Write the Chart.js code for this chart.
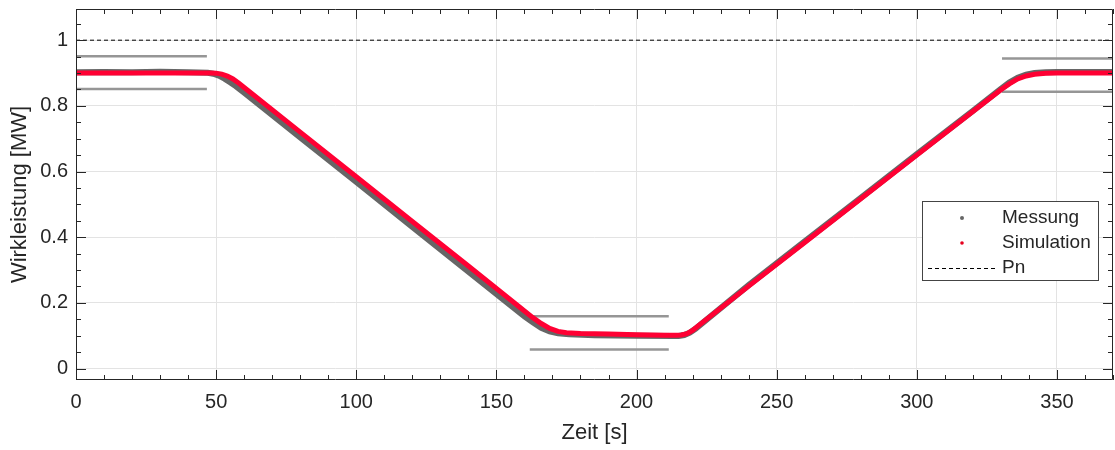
<!DOCTYPE html>
<html lang="de">
<head>
<meta charset="utf-8">
<title>Wirkleistung</title>
<script src="https://cdn.jsdelivr.net/npm/chart.js@4.4.1/dist/chart.umd.min.js"></script>
<style>
  html, body { margin: 0; padding: 0; background: #fff; }
  #grafico { display: block; }
</style>
</head>
<body>
<canvas id="grafico" width="1115" height="450"></canvas>
<script>
// Achsenbeschriftung
var xTicks = [0, 50, 100, 150, 200, 250, 300, 350];
var yTicks = [0, 0.2, 0.4, 0.6, 0.8, 1];

// Messung (grau)
var messZeit = [0, 10, 20, 30, 40, 47, 49, 51, 53, 55, 57, 60, 80, 100, 120, 140, 160, 163, 166, 169, 172, 176, 185, 200, 213, 215, 217, 219, 221, 240, 260, 280, 300, 320, 330, 333, 336, 339, 342, 346, 350, 360, 370];
var messWert = [0.902, 0.903, 0.902, 0.904, 0.902, 0.901, 0.898, 0.892, 0.883, 0.872, 0.860, 0.840, 0.704, 0.568, 0.431, 0.295, 0.159, 0.141, 0.124, 0.113, 0.107, 0.104, 0.101, 0.100, 0.099, 0.099, 0.102, 0.109, 0.121, 0.254, 0.387, 0.520, 0.653, 0.785, 0.852, 0.871, 0.886, 0.895, 0.900, 0.902, 0.903, 0.903, 0.903];

// Simulation (rot)
var simZeit = [0, 20, 40, 48, 50, 52, 54, 56, 58, 60, 80, 100, 120, 140, 160, 163, 166, 169, 172, 175, 180, 190, 200, 210, 214, 216, 218, 220, 222, 240, 260, 280, 300, 320, 330, 333, 336, 339, 342, 346, 350, 360, 370];
var simWert = [0.900, 0.900, 0.900, 0.900, 0.8996, 0.8967, 0.8907, 0.8819, 0.870, 0.856, 0.720, 0.584, 0.448, 0.312, 0.175, 0.155, 0.137, 0.122, 0.113, 0.109, 0.107, 0.105, 0.103, 0.1015, 0.101, 0.102, 0.106, 0.116, 0.130, 0.251, 0.384, 0.517, 0.650, 0.783, 0.849, 0.867, 0.882, 0.891, 0.896, 0.899, 0.900, 0.900, 0.900];

// Toleranzbänder
var tolLinksX = [0, 46.7];
var tolLinksOben = [0.951, 0.951];
var tolLinksUnten = [0.851, 0.851];
var tolMitteX = [161.9, 211.5];
var tolMitteOben = [0.159, 0.159];
var tolMitteUnten = [0.058, 0.058];
var tolRechtsX = [330.4, 370];
var tolRechtsOben = [0.944, 0.944];
var tolRechtsUnten = [0.843, 0.843];

// Nennleistung
var pnX = [0, 370];
var pnWert = [1, 1];

var schrift = "'Liberation Sans', Arial, sans-serif";
var textFarbe = '#262626';

function punkte(xs, ys) {
    return xs.map(function (x, i) { return { x: x, y: ys[i] }; });
}

function band(xs, ys) {
    return {
        data: punkte(xs, ys),
        borderColor: 'rgb(150,150,150)',
        borderWidth: 2.5,
        pointRadius: 0,
        order: 2
    };
}

// Rahmen mit Haupt- und Nebenstrichen (nach innen)
var rahmenPlugin = {
    id: 'rahmen',
    afterDatasetsDraw: function (chart) {
        var ctx = chart.ctx;
        var a = chart.chartArea;
        var sx = chart.scales.x, sy = chart.scales.y;
        ctx.save();
        ctx.strokeStyle = textFarbe;
        ctx.lineWidth = 1;
        ctx.beginPath();
        ctx.rect(a.left + 0.5, a.top + 0.5, a.right - a.left - 1, a.bottom - a.top - 1);
        for (var t = 0; t <= 370; t += 10) {
            var px = Math.round(sx.getPixelForValue(t)) + 0.5;
            var l = (t % 50 === 0) ? 10 : 5;
            ctx.moveTo(px, a.bottom); ctx.lineTo(px, a.bottom - l);
            ctx.moveTo(px, a.top); ctx.lineTo(px, a.top + l);
        }
        for (var k = 0; k <= 21; k++) {
            var py = Math.round(sy.getPixelForValue(k * 0.05)) + 0.5;
            var m = (k % 4 === 0) ? 10 : 5;
            ctx.moveTo(a.left, py); ctx.lineTo(a.left + m, py);
            ctx.moveTo(a.right, py); ctx.lineTo(a.right - m, py);
        }
        ctx.stroke();
        ctx.restore();
    }
};

// Legende im Diagramm
var legendePlugin = {
    id: 'legende',
    afterDraw: function (chart) {
        var ctx = chart.ctx;
        var box = { x: 922, y: 201, w: 176, h: 79 };
        var mitteX = 962;
        var textX = 1002;
        var zeilen = [218, 243, 268];
        ctx.save();
        ctx.fillStyle = '#fff';
        ctx.fillRect(box.x, box.y, box.w, box.h);
        ctx.strokeStyle = '#444';
        ctx.lineWidth = 1;
        ctx.strokeRect(box.x + 0.5, box.y + 0.5, box.w, box.h);

        ctx.fillStyle = 'rgb(102,102,102)';
        ctx.beginPath(); ctx.arc(mitteX, zeilen[0], 2, 0, 2 * Math.PI); ctx.fill();
        ctx.fillStyle = 'rgb(230,0,30)';
        ctx.beginPath(); ctx.arc(mitteX, zeilen[1], 1.8, 0, 2 * Math.PI); ctx.fill();

        ctx.strokeStyle = '#000';
        ctx.setLineDash([4, 3]);
        ctx.beginPath();
        ctx.moveTo(928, zeilen[2] + 0.5); ctx.lineTo(997, zeilen[2] + 0.5);
        ctx.stroke();
        ctx.setLineDash([]);

        ctx.fillStyle = textFarbe;
        ctx.font = '19px ' + schrift;
        ctx.textBaseline = 'middle';
        ctx.textAlign = 'left';
        ctx.fillText('Messung', textX, zeilen[0]);
        ctx.fillText('Simulation', textX, zeilen[1]);
        ctx.fillText('Pn', textX, zeilen[2]);
        ctx.restore();
    }
};

var ctx = document.getElementById('grafico').getContext('2d');

var grafico = new Chart(ctx, {
    type: 'line',
    data: {
        datasets: [
            {
                label: 'Simulation',
                data: punkte(simZeit, simWert),
                borderColor: 'rgb(255,0,51)',
                borderWidth: 5,
                pointRadius: 0,
                order: 0
            },
            {
                label: 'Messung',
                data: punkte(messZeit, messWert),
                borderColor: 'rgb(102,102,102)',
                borderWidth: 6,
                pointRadius: 0,
                order: 1
            },
            band(tolLinksX, tolLinksOben),
            band(tolLinksX, tolLinksUnten),
            band(tolMitteX, tolMitteOben),
            band(tolMitteX, tolMitteUnten),
            band(tolRechtsX, tolRechtsOben),
            band(tolRechtsX, tolRechtsUnten),
            {
                label: 'Pn',
                data: punkte(pnX, pnWert),
                borderColor: '#000',
                borderWidth: 1,
                borderDash: [4, 3],
                pointRadius: 0,
                order: 3
            }
        ]
    },
    options: {
        responsive: false,
        animation: false,
        events: [],
        layout: { padding: { top: 9, right: 2, left: 0, bottom: 0 } },
        plugins: {
            legend: { display: false },
            tooltip: { enabled: false }
        },
        scales: {
            x: {
                type: 'linear',
                min: 0,
                max: 370,
                afterBuildTicks: function (s) { s.ticks = xTicks.map(function (v) { return { value: v }; }); },
                afterFit: function (s) { s.height = 70; s.paddingLeft = 0; s.paddingRight = 0; },
                grid: { color: '#e3e3e3', drawTicks: false },
                border: { display: false },
                ticks: {
                    padding: 10,
                    color: textFarbe,
                    font: { family: schrift, size: 20 },
                    maxRotation: 0,
                    callback: function (v) { return String(v); }
                },
                title: {
                    display: true,
                    text: 'Zeit [s]',
                    color: textFarbe,
                    font: { family: schrift, size: 22 },
                    padding: { top: 0, bottom: 4 }
                }
            },
            y: {
                min: -0.035,
                max: 1.095,
                afterBuildTicks: function (s) { s.ticks = yTicks.map(function (v) { return { value: v }; }); },
                afterFit: function (s) { s.width = 76; s.paddingTop = 0; s.paddingBottom = 0; },
                grid: { color: '#e3e3e3', drawTicks: false },
                border: { display: false },
                ticks: {
                    padding: 8,
                    color: textFarbe,
                    font: { family: schrift, size: 20 },
                    callback: function (v) { return String(Number(v.toFixed(2))); }
                },
                title: {
                    display: true,
                    text: 'Wirkleistung [MW]',
                    color: textFarbe,
                    font: { family: schrift, size: 22 },
                    padding: { top: 7, bottom: 0 }
                }
            }
        }
    },
    plugins: [rahmenPlugin, legendePlugin]
});
</script>
</body>
</html>
